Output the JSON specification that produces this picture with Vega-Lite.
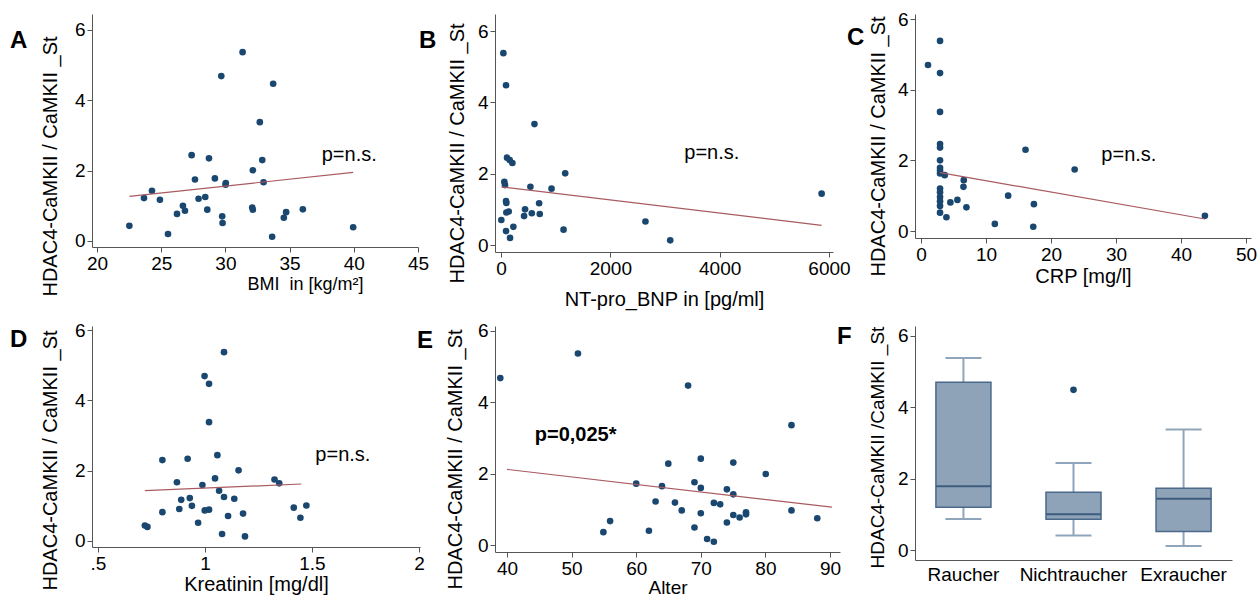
{
  "$schema": "https://vega.github.io/schema/vega-lite/v6.json",
  "autosize": {"type": "none"},
  "padding": {"left": 92, "top": 14, "right": 1167, "bottom": 584},
  "background": "white",
  "config": {
    "font": "Liberation Sans",
    "view": {"stroke": null},
    "axis": {
      "labelFont": "Liberation Sans", "labelFontSize": 19, "labelColor": "#000",
      "titleFont": "Liberation Sans", "titleFontWeight": "normal", "titleColor": "#000",
      "domainColor": "#555", "tickColor": "#555", "tickSize": 5, "grid": false,
      "labelPadding": 2, "labelFlush": false, "labelOverlap": false
    },
    "axisY": {"titleFontSize": 20, "titleBaseline": "middle", "titleAlign": "center", "labelAngle": 0},
    "axisX": {"titleFontSize": 20, "titlePadding": 2},
    "title": {"fontSize": 24, "fontWeight": "bold", "color": "#000", "font": "Liberation Sans", "anchor": "start", "frame": "group", "orient": "top", "offset": 0, "baseline": "alphabetic"}
  },
  "datasets": {
    "bmi": [
      {"predictor": 22.52, "ratio": 0.43}, {"predictor": 23.66, "ratio": 1.22}, {"predictor": 24.28, "ratio": 1.43},
      {"predictor": 24.90, "ratio": 1.17}, {"predictor": 25.53, "ratio": 0.20}, {"predictor": 26.23, "ratio": 0.77},
      {"predictor": 26.69, "ratio": 1.00}, {"predictor": 26.85, "ratio": 0.86}, {"predictor": 27.37, "ratio": 2.44},
      {"predictor": 27.63, "ratio": 1.75}, {"predictor": 27.91, "ratio": 1.20}, {"predictor": 28.43, "ratio": 1.25},
      {"predictor": 28.59, "ratio": 0.89}, {"predictor": 28.72, "ratio": 2.35}, {"predictor": 29.18, "ratio": 1.78},
      {"predictor": 29.68, "ratio": 4.69}, {"predictor": 29.75, "ratio": 0.70}, {"predictor": 29.78, "ratio": 0.51},
      {"predictor": 30.01, "ratio": 1.60}, {"predictor": 30.03, "ratio": 1.65}, {"predictor": 31.34, "ratio": 5.37},
      {"predictor": 32.14, "ratio": 2.01}, {"predictor": 32.09, "ratio": 0.95}, {"predictor": 32.14, "ratio": 0.89},
      {"predictor": 32.68, "ratio": 3.38}, {"predictor": 32.87, "ratio": 2.30}, {"predictor": 32.97, "ratio": 1.67},
      {"predictor": 33.64, "ratio": 0.12}, {"predictor": 33.72, "ratio": 4.47}, {"predictor": 34.55, "ratio": 0.66},
      {"predictor": 34.73, "ratio": 0.82}, {"predictor": 36.03, "ratio": 0.90}, {"predictor": 39.95, "ratio": 0.39}
    ],
    "bnp": [
      {"predictor": 43, "ratio": 5.38}, {"predictor": 92, "ratio": 4.48}, {"predictor": 612, "ratio": 3.39},
      {"predictor": 110, "ratio": 2.45}, {"predictor": 159, "ratio": 2.38}, {"predictor": 208, "ratio": 2.30},
      {"predictor": 61, "ratio": 1.77}, {"predictor": 73, "ratio": 1.68}, {"predictor": 538, "ratio": 1.63},
      {"predictor": 924, "ratio": 1.58}, {"predictor": 1174, "ratio": 2.01}, {"predictor": 5865, "ratio": 1.44},
      {"predictor": 92, "ratio": 1.23}, {"predictor": 98, "ratio": 1.18}, {"predictor": 98, "ratio": 0.91},
      {"predictor": 141, "ratio": 0.94}, {"predictor": 6, "ratio": 0.70}, {"predictor": 440, "ratio": 1.00},
      {"predictor": 422, "ratio": 0.81}, {"predictor": 563, "ratio": 0.89}, {"predictor": 697, "ratio": 1.17},
      {"predictor": 709, "ratio": 0.87}, {"predictor": 92, "ratio": 0.39}, {"predictor": 226, "ratio": 0.51},
      {"predictor": 165, "ratio": 0.20}, {"predictor": 1144, "ratio": 0.43}, {"predictor": 2642, "ratio": 0.66},
      {"predictor": 3095, "ratio": 0.13}
    ],
    "crp": [
      {"predictor": 1.08, "ratio": 4.70}, {"predictor": 2.93, "ratio": 5.38}, {"predictor": 2.93, "ratio": 4.47},
      {"predictor": 2.93, "ratio": 3.37}, {"predictor": 2.93, "ratio": 2.46}, {"predictor": 2.93, "ratio": 2.36},
      {"predictor": 2.93, "ratio": 2.00}, {"predictor": 2.93, "ratio": 1.79}, {"predictor": 2.93, "ratio": 1.71},
      {"predictor": 2.93, "ratio": 1.63}, {"predictor": 3.65, "ratio": 1.58}, {"predictor": 2.93, "ratio": 1.20},
      {"predictor": 2.93, "ratio": 1.10}, {"predictor": 2.93, "ratio": 0.96}, {"predictor": 2.93, "ratio": 0.84},
      {"predictor": 2.93, "ratio": 0.71}, {"predictor": 2.93, "ratio": 0.52}, {"predictor": 3.91, "ratio": 0.39},
      {"predictor": 4.52, "ratio": 0.81}, {"predictor": 5.60, "ratio": 0.88}, {"predictor": 6.58, "ratio": 1.44},
      {"predictor": 6.53, "ratio": 1.25}, {"predictor": 6.99, "ratio": 0.67}, {"predictor": 11.36, "ratio": 0.20},
      {"predictor": 13.41, "ratio": 1.00}, {"predictor": 16.08, "ratio": 2.30}, {"predictor": 17.37, "ratio": 0.76},
      {"predictor": 17.27, "ratio": 0.12}, {"predictor": 23.64, "ratio": 1.74}, {"predictor": 43.68, "ratio": 0.43}
    ],
    "krea": [
      {"predictor": 0.719, "ratio": 0.44}, {"predictor": 0.731, "ratio": 0.40}, {"predictor": 0.801, "ratio": 2.30},
      {"predictor": 0.801, "ratio": 0.82}, {"predictor": 0.869, "ratio": 1.67}, {"predictor": 0.880, "ratio": 0.91},
      {"predictor": 0.889, "ratio": 1.17}, {"predictor": 0.919, "ratio": 2.34}, {"predictor": 0.929, "ratio": 1.22},
      {"predictor": 0.939, "ratio": 1.00}, {"predictor": 0.968, "ratio": 0.52}, {"predictor": 0.988, "ratio": 1.59},
      {"predictor": 0.998, "ratio": 4.69}, {"predictor": 0.999, "ratio": 0.87}, {"predictor": 1.019, "ratio": 4.47},
      {"predictor": 1.019, "ratio": 3.38}, {"predictor": 1.019, "ratio": 0.89}, {"predictor": 1.047, "ratio": 1.78},
      {"predictor": 1.058, "ratio": 2.44}, {"predictor": 1.066, "ratio": 1.43}, {"predictor": 1.089, "ratio": 5.37},
      {"predictor": 1.089, "ratio": 1.25}, {"predictor": 1.080, "ratio": 0.20}, {"predictor": 1.108, "ratio": 0.71},
      {"predictor": 1.137, "ratio": 1.20}, {"predictor": 1.157, "ratio": 2.01}, {"predictor": 1.178, "ratio": 0.78},
      {"predictor": 1.187, "ratio": 0.13}, {"predictor": 1.325, "ratio": 1.75}, {"predictor": 1.347, "ratio": 1.64},
      {"predictor": 1.415, "ratio": 0.95}, {"predictor": 1.446, "ratio": 0.66}, {"predictor": 1.474, "ratio": 1.01}
    ],
    "alter": [
      {"predictor": 38.96, "ratio": 4.68}, {"predictor": 50.98, "ratio": 5.37}, {"predictor": 54.92, "ratio": 0.36},
      {"predictor": 55.96, "ratio": 0.67}, {"predictor": 60.0, "ratio": 1.72}, {"predictor": 61.97, "ratio": 0.40},
      {"predictor": 63.0, "ratio": 1.22}, {"predictor": 63.99, "ratio": 1.65}, {"predictor": 64.97, "ratio": 2.28},
      {"predictor": 66.0, "ratio": 1.19}, {"predictor": 67.05, "ratio": 0.97}, {"predictor": 68.03, "ratio": 4.47},
      {"predictor": 69.02, "ratio": 1.76}, {"predictor": 69.02, "ratio": 0.49}, {"predictor": 70.0, "ratio": 2.42},
      {"predictor": 70.0, "ratio": 1.60}, {"predictor": 70.0, "ratio": 0.89}, {"predictor": 70.98, "ratio": 0.17},
      {"predictor": 72.02, "ratio": 1.18}, {"predictor": 72.02, "ratio": 0.09}, {"predictor": 73.0, "ratio": 1.14},
      {"predictor": 74.04, "ratio": 1.56}, {"predictor": 74.04, "ratio": 0.63}, {"predictor": 75.03, "ratio": 2.31},
      {"predictor": 75.03, "ratio": 1.42}, {"predictor": 75.03, "ratio": 0.84}, {"predictor": 76.01, "ratio": 0.77},
      {"predictor": 77.0, "ratio": 0.92}, {"predictor": 77.0, "ratio": 0.86}, {"predictor": 80.05, "ratio": 1.99},
      {"predictor": 84.04, "ratio": 3.36}, {"predictor": 84.04, "ratio": 0.97}, {"predictor": 88.03, "ratio": 0.75}
    ],
    "fit": [
      {"panel": "A", "predictor": 22.52, "ratio": 1.27}, {"panel": "A", "predictor": 39.95, "ratio": 1.95},
      {"panel": "B", "predictor": 6, "ratio": 1.63}, {"panel": "B", "predictor": 5865, "ratio": 0.55},
      {"panel": "C", "predictor": 2.93, "ratio": 1.65}, {"panel": "C", "predictor": 43.68, "ratio": 0.34},
      {"panel": "D", "predictor": 0.719, "ratio": 1.43}, {"panel": "D", "predictor": 1.45, "ratio": 1.62},
      {"panel": "E", "predictor": 40, "ratio": 2.12}, {"panel": "E", "predictor": 90.3, "ratio": 1.06}
    ],
    "notes": [
      {"panel": "A", "predictor": 37.5, "ratio": 2.44, "label": "p=n.s."},
      {"panel": "B", "predictor": 3352, "ratio": 2.57, "label": "p=n.s."},
      {"panel": "C", "predictor": 27.75, "ratio": 2.15, "label": "p=n.s."},
      {"panel": "D", "predictor": 1.516, "ratio": 2.44, "label": "p=n.s."},
      {"panel": "E", "predictor": 44.3, "ratio": 3.08, "label": "p=0,025*"}
    ],
    "box": [
      {"group": "Raucher", "lo": 0.87, "q1": 1.20, "med": 1.79, "q3": 4.70, "hi": 5.38},
      {"group": "Nichtraucher", "lo": 0.41, "q1": 0.86, "med": 1.00, "q3": 1.62, "hi": 2.44},
      {"group": "Exraucher", "lo": 0.11, "q1": 0.52, "med": 1.44, "q3": 1.73, "hi": 3.38}
    ],
    "outliers": [
      {"group": "Nichtraucher", "value": 4.49}
    ]
  },
  "columns": 3,
  "spacing": {"row": 74, "column": 75},
  "bounds": "flush",
  "align": {"row": "each", "column": "none"},
  "concat": [
    {
      "width": 326, "height": 233,
      "title": {"text": "A", "dx": -82, "dy": 43},
      "encoding": {
        "x": {"field": "predictor", "type": "quantitative", "scale": {"domain": [19.61, 45], "nice": false, "zero": false},
              "axis": {"values": [20, 25, 30, 35, 40, 45], "title": "BMI\u00a0 in [kg/m²]", "titleX": 213, "titleFontSize": 18}},
        "y": {"field": "ratio", "type": "quantitative", "scale": {"domain": [-0.171, 6.455], "nice": false, "zero": false},
              "axis": {"values": [0, 2, 4, 6], "title": "HDAC4-CaMKII / CaMKII _St", "titleX": -42, "titleY": 152}}
      },
      "layer": [
        {"data": {"name": "bmi"}, "mark": {"type": "circle", "size": 44, "color": "#1a476f", "opacity": 1}},
        {"data": {"name": "fit"}, "transform": [{"filter": "datum.panel === 'A'"}], "mark": {"type": "line", "color": "#a85a60", "strokeWidth": 1.2}},
        {"data": {"name": "notes"}, "transform": [{"filter": "datum.panel === 'A'"}], "mark": {"type": "text", "align": "left", "baseline": "middle", "fontSize": 20, "color": "#000"}, "encoding": {"text": {"field": "label"}}}
      ]
    },
    {
      "width": 338, "height": 238,
      "title": {"text": "B", "dx": -76, "dy": 43},
      "encoding": {
        "x": {"field": "predictor", "type": "quantitative", "scale": {"domain": [-110, 6073], "nice": false, "zero": false},
              "axis": {"values": [0, 2000, 4000, 6000], "format": "d", "title": "NT-pro_BNP in [pg/ml]", "titlePadding": 11}},
        "y": {"field": "ratio", "type": "quantitative", "scale": {"domain": [-0.196, 6.477], "nice": false, "zero": false},
              "axis": {"values": [0, 2, 4, 6], "title": "HDAC4-CaMKII / CaMKII _St", "titleX": -38, "titleY": 139}}
      },
      "layer": [
        {"data": {"name": "bnp"}, "mark": {"type": "circle", "size": 44, "color": "#1a476f", "opacity": 1}},
        {"data": {"name": "fit"}, "transform": [{"filter": "datum.panel === 'B'"}], "mark": {"type": "line", "color": "#a85a60", "strokeWidth": 1.2}},
        {"data": {"name": "notes"}, "transform": [{"filter": "datum.panel === 'B'"}], "mark": {"type": "text", "align": "left", "baseline": "middle", "fontSize": 20, "color": "#000"}, "encoding": {"text": {"field": "label"}}}
      ]
    },
    {
      "width": 336, "height": 224,
      "title": {"text": "C", "dx": -68, "dy": 44},
      "encoding": {
        "x": {"field": "predictor", "type": "quantitative", "scale": {"domain": [-0.923, 50.77], "nice": false, "zero": false},
              "axis": {"values": [0, 10, 20, 30, 40, 50], "title": "CRP [mg/l]"}},
        "y": {"field": "ratio", "type": "quantitative", "scale": {"domain": [-0.198, 6.142], "nice": false, "zero": false},
              "axis": {"values": [0, 2, 4, 6], "title": "HDAC4-CaMKII / CaMKII _St", "titleX": -37, "titleY": 132}}
      },
      "layer": [
        {"data": {"name": "crp"}, "mark": {"type": "circle", "size": 44, "color": "#1a476f", "opacity": 1}},
        {"data": {"name": "fit"}, "transform": [{"filter": "datum.panel === 'C'"}], "mark": {"type": "line", "color": "#a85a60", "strokeWidth": 1.2}},
        {"data": {"name": "notes"}, "transform": [{"filter": "datum.panel === 'C'"}], "mark": {"type": "text", "align": "left", "baseline": "middle", "fontSize": 20, "color": "#000"}, "encoding": {"text": {"field": "label"}}}
      ]
    },
    {
      "width": 328, "height": 221,
      "title": {"text": "D", "dx": -82, "dy": 35},
      "encoding": {
        "x": {"field": "predictor", "type": "quantitative", "scale": {"domain": [0.472, 2.005], "nice": false, "zero": false},
              "axis": {"values": [0.5, 1, 1.5, 2], "format": "~g", "labelExpr": "datum.value === 0.5 ? '.5' : datum.label", "title": "Kreatinin [mg/dl]", "titlePadding": 1}},
        "y": {"field": "ratio", "type": "quantitative", "scale": {"domain": [-0.171, 6.114], "nice": false, "zero": false},
              "axis": {"values": [0, 2, 4, 6], "title": "HDAC4-CaMKII / CaMKII _St", "titleX": -42, "titleY": 134}}
      },
      "layer": [
        {"data": {"name": "krea"}, "mark": {"type": "circle", "size": 44, "color": "#1a476f", "opacity": 1}},
        {"data": {"name": "fit"}, "transform": [{"filter": "datum.panel === 'D'"}], "mark": {"type": "line", "color": "#a85a60", "strokeWidth": 1.2}},
        {"data": {"name": "notes"}, "transform": [{"filter": "datum.panel === 'D'"}], "mark": {"type": "text", "align": "left", "baseline": "middle", "fontSize": 20, "color": "#000"}, "encoding": {"text": {"field": "label"}}}
      ]
    },
    {
      "width": 345, "height": 226,
      "title": {"text": "E", "dx": -78, "dy": 35},
      "encoding": {
        "x": {"field": "predictor", "type": "quantitative", "scale": {"domain": [38.14, 91.55], "nice": false, "zero": false},
              "axis": {"values": [40, 50, 60, 70, 80, 90], "title": "Alter", "titlePadding": 0, "titleFontSize": 19}},
        "y": {"field": "ratio", "type": "quantitative", "scale": {"domain": [-0.196, 6.14], "nice": false, "zero": false},
              "axis": {"values": [0, 2, 4, 6], "title": "HDAC4-CaMKII / CaMKII _St", "titleX": -40, "titleY": 133}}
      },
      "layer": [
        {"data": {"name": "alter"}, "mark": {"type": "circle", "size": 44, "color": "#1a476f", "opacity": 1}},
        {"data": {"name": "fit"}, "transform": [{"filter": "datum.panel === 'E'"}], "mark": {"type": "line", "color": "#a85a60", "strokeWidth": 1.2}},
        {"data": {"name": "notes"}, "transform": [{"filter": "datum.panel === 'E'"}], "mark": {"type": "text", "align": "left", "baseline": "middle", "fontSize": 20, "fontWeight": "bold", "color": "#000"}, "encoding": {"text": {"field": "label"}}}
      ]
    },
    {
      "width": 317, "height": 234,
      "title": {"text": "F", "dx": -78, "dy": 27},
      "data": {"name": "box"},
      "encoding": {
        "x": {"field": "group", "type": "nominal",
              "scale": {"domain": ["Raucher", "Nichtraucher", "Exraucher"], "paddingInner": 0.5, "paddingOuter": 0.19},
              "axis": {"title": null, "labelAngle": 0, "ticks": false, "labelPadding": 5}}
      },
      "layer": [
        {"mark": {"type": "rule", "color": "#8fa5bc", "strokeWidth": 2},
         "encoding": {"y": {"field": "lo", "type": "quantitative", "scale": {"domain": [-0.28, 6.28], "nice": false, "zero": false},
                            "axis": {"values": [0, 2, 4, 6], "title": "HDAC4-CaMKII /CaMKII _St", "titleX": -38, "titleY": 121, "titleFontSize": 19}},
                      "y2": {"field": "q1"}}},
        {"mark": {"type": "rule", "color": "#8fa5bc", "strokeWidth": 2},
         "encoding": {"y": {"field": "q3", "type": "quantitative"}, "y2": {"field": "hi"}}},
        {"mark": {"type": "tick", "color": "#8fa5bc", "thickness": 2, "size": 36, "opacity": 1},
         "encoding": {"y": {"field": "lo", "type": "quantitative"}}},
        {"mark": {"type": "tick", "color": "#8fa5bc", "thickness": 2, "size": 36, "opacity": 1},
         "encoding": {"y": {"field": "hi", "type": "quantitative"}}},
        {"mark": {"type": "bar", "fill": "#8ea3b8", "stroke": "#4b6a8b", "strokeWidth": 1.5, "opacity": 1},
         "encoding": {"y": {"field": "q1", "type": "quantitative"}, "y2": {"field": "q3"}}},
        {"mark": {"type": "tick", "color": "#3e5d7e", "thickness": 2, "size": 55, "opacity": 1},
         "encoding": {"y": {"field": "med", "type": "quantitative"}}},
        {"data": {"name": "outliers"}, "mark": {"type": "circle", "size": 44, "color": "#1a476f", "opacity": 1},
         "encoding": {"y": {"field": "value", "type": "quantitative"}}}
      ]
    }
  ]
}
